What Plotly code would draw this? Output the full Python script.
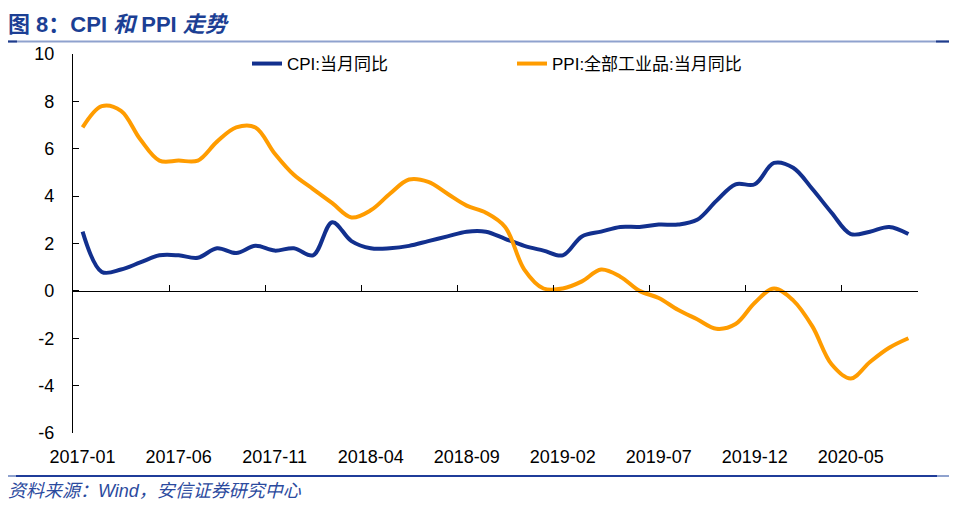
import plotly.graph_objects as go

# monthly data 2017-01 .. 2020-08
months = []
for y in range(2017, 2021):
    for m in range(1, 13):
        months.append("%d-%02d" % (y, m))
months = months[:44]

cpi = [2.5, 0.8, 0.9, 1.2, 1.5, 1.5, 1.4, 1.8, 1.6, 1.9, 1.7, 1.8,
       1.5, 2.9, 2.1, 1.8, 1.8, 1.9, 2.1, 2.3, 2.5, 2.5, 2.2, 1.9,
       1.7, 1.5, 2.3, 2.5, 2.7, 2.7, 2.8, 2.8, 3.0, 3.8, 4.5, 4.5,
       5.4, 5.2, 4.3, 3.3, 2.4, 2.5, 2.7, 2.4]
ppi = [6.9, 7.8, 7.6, 6.4, 5.5, 5.5, 5.5, 6.3, 6.9, 6.9, 5.8, 4.9,
       4.3, 3.7, 3.1, 3.4, 4.1, 4.7, 4.6, 4.1, 3.6, 3.3, 2.7, 0.9,
       0.1, 0.1, 0.4, 0.9, 0.6, 0.0, -0.3, -0.8, -1.2, -1.6, -1.4, -0.5,
       0.1, -0.4, -1.5, -3.1, -3.7, -3.0, -2.4, -2.0]

y_ticks = [10, 8, 6, 4, 2, 0, -2, -4, -6]
y_labels = ["10", "8", "6", "4", "2", "0", "-2", "-4", "-6"]

idx = list(range(len(months)))
label_idx = idx[::5]
label_txt = [months[i] for i in label_idx]
tick_idx = [i + 4.5 for i in idx[::5]][:-1]

FONT = "Liberation Sans, Arial, Noto Sans CJK SC"
OFF = 8  # page body margin
W, H = 958 - OFF, 507 - OFF
L, R, T, B = 73 - OFF, 40, 54 - OFF, 74
pw, ph = W - L - R, H - T - B


# page pixel -> paper coords
def px(x):
    return (x - OFF - L) / pw


def py(y):
    return (H - B - (y - OFF)) / ph


fig = go.Figure()
fig.add_trace(go.Scatter(x=idx, y=cpi, mode="lines", name="CPI:当月同比",
                         line=dict(color="#12308E", width=4, shape="spline", smoothing=1)))
fig.add_trace(go.Scatter(x=idx, y=ppi, mode="lines", name="PPI:全部工业品:当月同比",
                         xaxis="x2",
                         line=dict(color="#FF9C00", width=4, shape="spline", smoothing=1)))

fig.update_layout(
    width=W, height=H,
    margin=dict(l=L, r=R, t=T, b=B),
    paper_bgcolor="white", plot_bgcolor="white",
    font=dict(family=FONT, size=17, color="black"),
    showlegend=True,
    legend=dict(orientation="h", x=px(247), y=py(64), xanchor="left", yanchor="middle",
                font=dict(size=17), entrywidth=220, entrywidthmode="pixels",
                bgcolor="rgba(0,0,0,0)"),
    xaxis=dict(range=[-0.5, 43.5], tickvals=label_idx, ticktext=label_txt,
               showgrid=False, zeroline=False, showline=False, ticks="",
               ticklabelstandoff=11, tickfont=dict(size=18)),
    xaxis2=dict(range=[-0.5, 43.5], overlaying="x", anchor="free", position=0.375,
                tickvals=tick_idx, ticks="inside", ticklen=6, tickcolor="black",
                showticklabels=False, showgrid=False, zeroline=False,
                showline=True, linecolor="black", linewidth=1.3),
    yaxis=dict(range=[-6, 10], tickvals=y_ticks, ticktext=y_labels,
               showgrid=False, zeroline=False,
               showline=True, linecolor="black", linewidth=1.3,
               ticks="inside", ticklen=6, tickcolor="black",
               ticklabelstandoff=14, tickfont=dict(size=18)),
)

# header and footer rules
fig.add_shape(type="line", xref="paper", yref="paper", x0=px(5), x1=px(949),
              y0=py(41.5), y1=py(41.5), line=dict(color="#8FA2CE", width=2))
fig.add_shape(type="line", xref="paper", yref="paper", x0=px(5), x1=px(17),
              y0=py(41.5), y1=py(41.5), line=dict(color="#1F3C8C", width=2))
fig.add_shape(type="line", xref="paper", yref="paper", x0=px(936), x1=px(949),
              y0=py(41.5), y1=py(41.5), line=dict(color="#1F3C8C", width=2))
fig.add_shape(type="line", xref="paper", yref="paper", x0=px(5), x1=px(949),
              y0=py(476), y1=py(476), line=dict(color="#1F3C99", width=2))
fig.add_shape(type="line", xref="paper", yref="paper", x0=px(5), x1=px(16),
              y0=py(476), y1=py(476), line=dict(color="#8FA2CE", width=2))
fig.add_shape(type="line", xref="paper", yref="paper", x0=px(937), x1=px(949),
              y0=py(476), y1=py(476), line=dict(color="#8FA2CE", width=2))

fig.add_annotation(text="<b>图 8：CPI <i>和</i> PPI <i>走势</i></b>", xref="paper", yref="paper",
                   x=px(6), y=py(25), xanchor="left", yanchor="middle", showarrow=False,
                   font=dict(family=FONT, size=22, color="#1C3F94"))
fig.add_annotation(text="<i>资料来源：Wind，安信证券研究中心</i>", xref="paper", yref="paper",
                   x=px(6), y=py(491), xanchor="left", yanchor="middle", showarrow=False,
                   font=dict(family=FONT, size=18, color="#2B4A9E"))

fig.write_html("out.html")
